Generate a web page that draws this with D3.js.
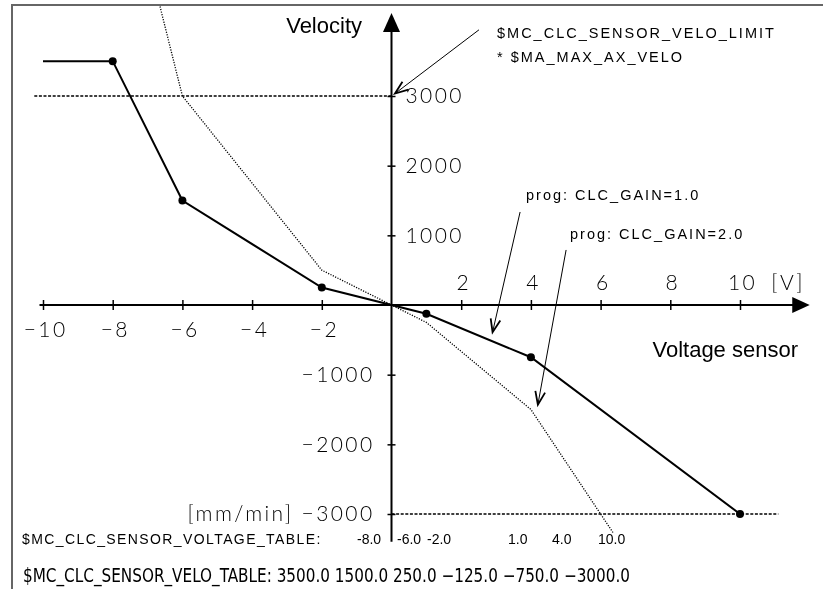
<!DOCTYPE html>
<html>
<head>
<meta charset="utf-8">
<script src="https://cdn.jsdelivr.net/npm/d3@7"></script>
<style>
  html, body { margin: 0; padding: 0; background: #fff; }
  svg { display: block; will-change: transform; }
  .tick-label { font-family: Lato, "DejaVu Sans", sans-serif; font-weight: 300; font-size: 21px; fill: #000; letter-spacing: 2.4px; }
  .axis-title { font-family: "Liberation Sans", Arial, sans-serif; font-size: 22px; fill: #000; }
  .note { font-family: "Liberation Sans", Arial, sans-serif; font-size: 14.5px; fill: #000; letter-spacing: 2px; }
  .table-head { font-family: "Liberation Sans", Arial, sans-serif; font-size: 14px; fill: #000; letter-spacing: 1.4px; }
  .table-val { font-family: "Liberation Sans", Arial, sans-serif; font-size: 14px; fill: #000; }
  .table-line { font-family: "Liberation Sans Narrow", "DejaVu Sans Condensed", "Arial Narrow", sans-serif; font-stretch: condensed; font-size: 19px; fill: #000; }
</style>
</head>
<body>
<svg id="chart" width="823" height="589"></svg>
<script>
// Characteristic: sensor voltage [V] -> velocity [mm/min]
const voltageTable = [-8.0, -6.0, -2.0, 1.0, 4.0, 10.0];
const veloTable = [3500, 1500, 250, -125, -750, -3000];
const veloTableGain2 = [7000, 3000, 500, -250, -1500, -6000];
const veloLimit = 3000;
const xTicks = [-10, -8, -6, -4, -2, 2, 4, 6, 8, 10];
const yTicks = [-3000, -2000, -1000, 1000, 2000, 3000];
const xUnit = "[V]";
const yUnit = "[mm/min]";
const xTitle = "Voltage sensor";
const yTitle = "Velocity";
const limitNote = ["$MC_CLC_SENSOR_VELO_LIMIT", "* $MA_MAX_AX_VELO"];
const gainNotes = ["prog: CLC_GAIN=1.0", "prog: CLC_GAIN=2.0"];
const voltageHead = "$MC_CLC_SENSOR_VOLTAGE_TABLE:";
const veloHead = "$MC_CLC_SENSOR_VELO_TABLE:";

const svg = d3.select("#chart");
const x = d3.scaleLinear().domain([-10, 10]).range([43, 740]);
const y = d3.scaleLinear().domain([-3000, 3000]).range([514, 96]);
const fmt = d3.format("d");
const fmt1 = d3.format(".1f");
const x0 = x(0), y0 = y(0);

// frame
svg.append("path")
  .attr("d", "M12,589V5H823")
  .attr("fill", "none").attr("stroke", "#666").attr("stroke-width", 2);

// clip region for the gain-2 curve
svg.append("defs").append("clipPath").attr("id", "plotClip")
  .append("rect").attr("x", 13).attr("y", 6).attr("width", 800).attr("height", y(-3270) - 6);

// velocity limit lines (dashed)
svg.append("line")
  .attr("x1", x(-10.25)).attr("x2", x0)
  .attr("y1", y(veloLimit)).attr("y2", y(veloLimit))
  .attr("stroke", "#000").attr("stroke-width", 1.5).attr("stroke-dasharray", "3,1.6");
svg.append("line")
  .attr("x1", x0).attr("x2", x(11.1))
  .attr("y1", y(-veloLimit)).attr("y2", y(-veloLimit))
  .attr("stroke", "#000").attr("stroke-width", 1.5).attr("stroke-dasharray", "3,1.6");

// x axis with arrow
svg.append("line")
  .attr("x1", x(-10.1)).attr("x2", x(11.55)).attr("y1", y0).attr("y2", y0)
  .attr("stroke", "#000").attr("stroke-width", 2);
svg.append("path")
  .attr("d", d3.line()([[x(12), y0], [x(11.5), y0 - 8], [x(11.5), y0 + 8]]) + "Z")
  .attr("fill", "#000");

// y axis with arrow
svg.append("line")
  .attr("x1", x0).attr("x2", x0).attr("y1", y(-3400)).attr("y2", y(3930))
  .attr("stroke", "#000").attr("stroke-width", 2);
svg.append("path")
  .attr("d", d3.line()([[x0, y(4190)], [x0 - 8.5, y(3920)], [x0 + 8.5, y(3920)]]) + "Z")
  .attr("fill", "#000");

// x ticks: negatives below, positives above
const gxNeg = svg.append("g").attr("transform", `translate(0,${y0})`)
  .call(d3.axisBottom(x).tickValues(xTicks.filter(d => d < 0)).tickSize(5).tickFormat(fmt));
const gxPos = svg.append("g").attr("transform", `translate(0,${y0})`)
  .call(d3.axisTop(x).tickValues(xTicks.filter(d => d > 0)).tickSize(5).tickFormat(fmt));
[gxNeg, gxPos].forEach(g => {
  g.select(".domain").remove();
  g.selectAll(".tick line").attr("y1", -5).attr("y2", 5).attr("stroke", "#000").attr("stroke-width", 1.5);
  g.selectAll(".tick text").attr("class", "tick-label").attr("fill", "#000")
    .attr("font-family", null).attr("font-size", null).attr("dx", "0.1em");
});
gxNeg.selectAll(".tick text").attr("y", 17);
gxPos.selectAll(".tick text").attr("y", -15);
svg.append("text").attr("class", "tick-label")
  .attr("x", x(10.9)).attr("y", y0 - 15).text(xUnit);

// y ticks: positives right of axis, negatives left
const gyPos = svg.append("g").attr("transform", `translate(${x0},0)`)
  .call(d3.axisRight(y).tickValues(yTicks.filter(d => d > 0)).tickSize(4).tickFormat(fmt));
const gyNeg = svg.append("g").attr("transform", `translate(${x0},0)`)
  .call(d3.axisLeft(y).tickValues(yTicks.filter(d => d < 0)).tickSize(4)
    .tickFormat(d => d === -3000 ? yUnit + "\u00A0" + fmt(d) : fmt(d)));
[gyPos, gyNeg].forEach(g => {
  g.select(".domain").remove();
  g.selectAll(".tick line").attr("x1", -4).attr("x2", 4).attr("stroke", "#000").attr("stroke-width", 1.5);
  g.selectAll(".tick text").attr("class", "tick-label").attr("fill", "#000")
    .attr("font-family", null).attr("font-size", null);
});
gyPos.selectAll(".tick text").attr("x", 14);
gyNeg.selectAll(".tick text").attr("x", -17);

// axis titles
svg.append("text").attr("class", "axis-title").attr("text-anchor", "end")
  .attr("x", 362).attr("y", 33).text(yTitle);
svg.append("text").attr("class", "axis-title").attr("text-anchor", "end")
  .attr("x", 798).attr("y", 357).text(xTitle);

// gain 2.0 characteristic (dotted)
const line = d3.line().x(d => x(d[0])).y(d => y(d[1]));
svg.append("path")
  .attr("clip-path", "url(#plotClip)")
  .attr("d", line(voltageTable.map((v, i) => [v, veloTableGain2[i]])))
  .attr("fill", "none").attr("stroke", "#000").attr("stroke-width", 1.3).attr("stroke-dasharray", "1.2,1.4");

// gain 1.0 characteristic (solid), held at table end below -8 V
const solidPts = [[-10, veloTable[0]]].concat(voltageTable.map((v, i) => [v, veloTable[i]]));
svg.append("path")
  .attr("d", line(solidPts))
  .attr("fill", "none").attr("stroke", "#000").attr("stroke-width", 2);
svg.selectAll("circle.pt")
  .data(voltageTable.map((v, i) => [v, veloTable[i]]))
  .join("circle").attr("class", "pt")
  .attr("cx", d => x(d[0])).attr("cy", d => y(d[1])).attr("r", 4).attr("fill", "#000");

// annotation arrows
function arrow(from, to) {
  const [x1, y1] = [x(from[0]), y(from[1])];
  const [x2, y2] = [x(to[0]), y(to[1])];
  const a = Math.atan2(y2 - y1, x2 - x1);
  const L = 14, s = 0.36;
  const b1 = [x2 - L * Math.cos(a - s), y2 - L * Math.sin(a - s)];
  const b2 = [x2 - L * Math.cos(a + s), y2 - L * Math.sin(a + s)];
  svg.append("line").attr("x1", x1).attr("y1", y1).attr("x2", x2).attr("y2", y2)
    .attr("stroke", "#000").attr("stroke-width", 1);
  svg.append("path").attr("d", `M${b1}L${x2},${y2}L${b2}`)
    .attr("fill", "none").attr("stroke", "#000").attr("stroke-width", 1.8);
}
arrow([2.51, 3950], [0.1, 3035]);
arrow([3.69, 1335], [2.9, -390]);
arrow([5.01, 790], [4.2, -1430]);

svg.append("text").attr("class", "note").attr("x", 497).attr("y", 38).text(limitNote[0]);
svg.append("text").attr("class", "note").attr("x", 497).attr("y", 62).text(limitNote[1]);
svg.append("text").attr("class", "note").attr("x", 526).attr("y", 200).text(gainNotes[0]);
svg.append("text").attr("class", "note").attr("x", 570).attr("y", 239).text(gainNotes[1]);

// machine data tables
svg.append("text").attr("class", "table-head").attr("x", 22).attr("y", 544).text(voltageHead);
const voltX = [357, 397, 427, 508, 552, 598];
svg.selectAll("text.volt").data(voltageTable).join("text").attr("class", "table-val volt")
  .attr("x", (d, i) => voltX[i]).attr("y", 544)
  .text(d => fmt1(d).replace("\u2212", "-"));
svg.append("text").attr("class", "table-line")
  .attr("x", 23).attr("y", 582)
  .attr("textLength", 607).attr("lengthAdjust", "spacingAndGlyphs")
  .text(veloHead + " " + veloTable.map(v => fmt1(v)).join(" "));
</script>
</body>
</html>
